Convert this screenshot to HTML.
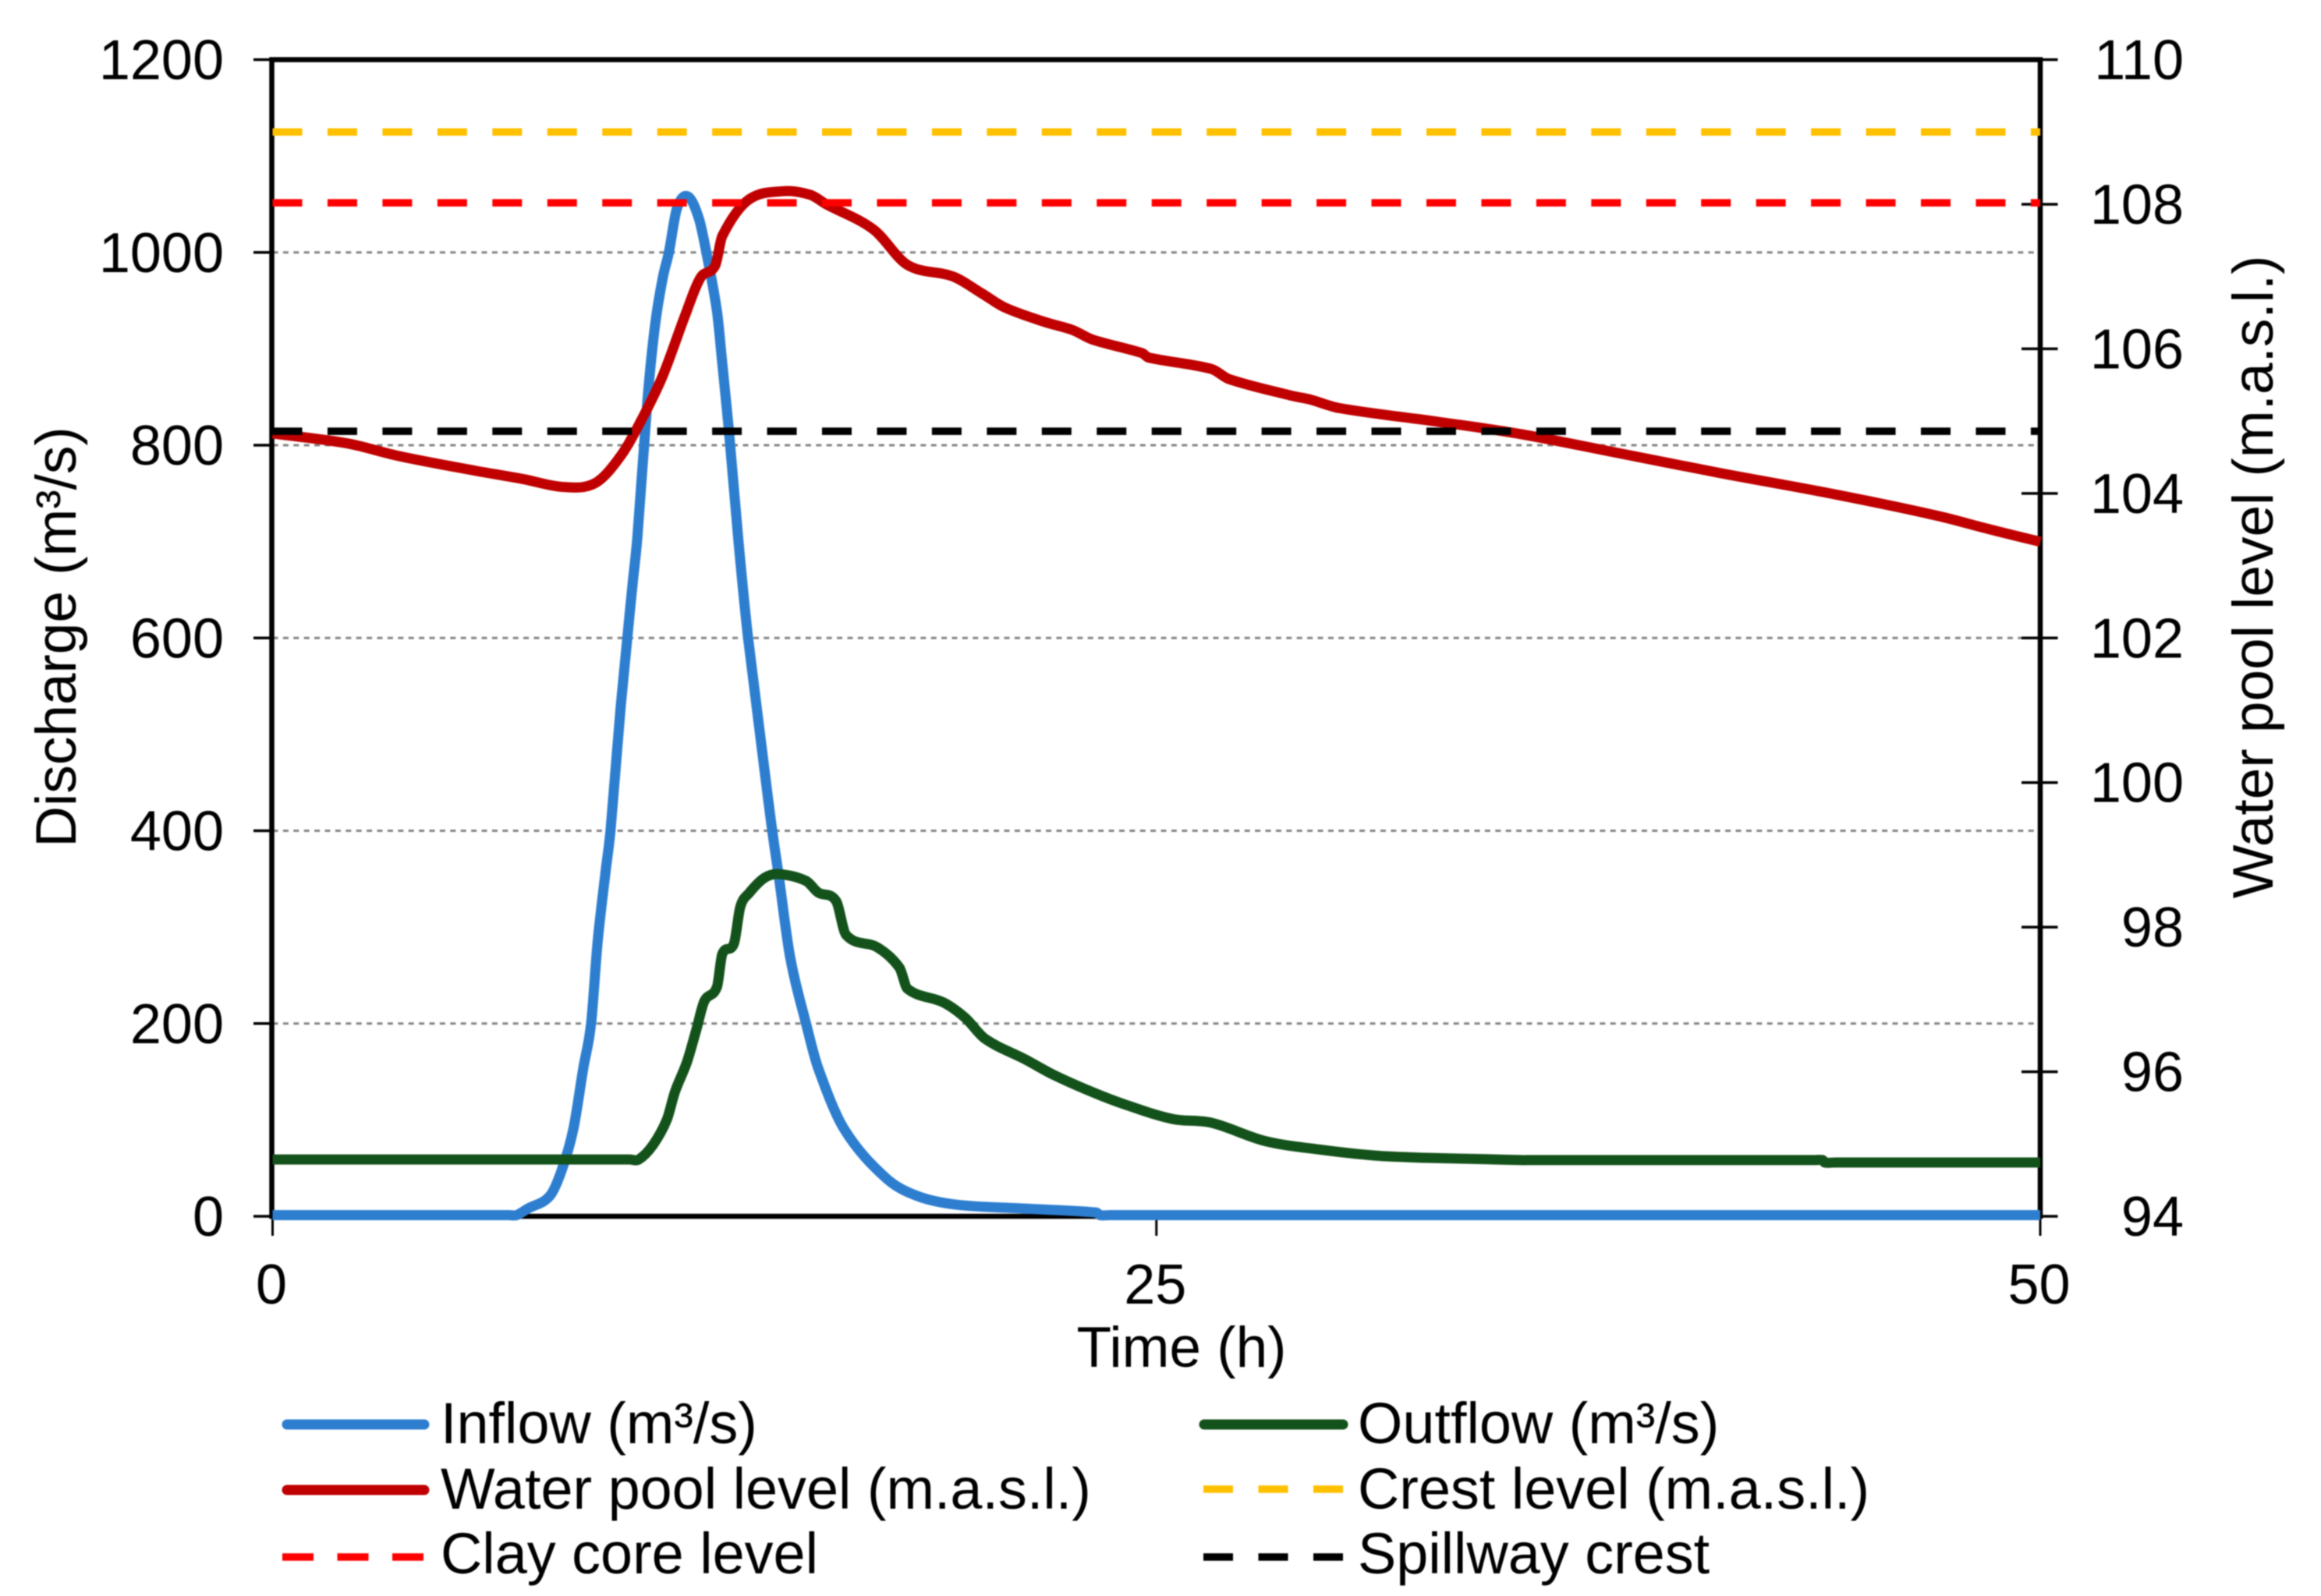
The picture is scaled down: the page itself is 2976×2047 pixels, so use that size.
<!DOCTYPE html>
<html lang="en">
<head>
<meta charset="utf-8">
<title>Inflow, outflow and water pool level over time</title>
<style>
html,body{margin:0;padding:0;background:#fff;}
#chart{display:block;width:2976px;height:2047px;filter:blur(0.7px);}
text{font-family:"Liberation Sans",Arial,sans-serif;fill:#000;}
.tick{font-size:72px;}
.title{font-size:73px;}
.leg{font-size:73.8px;}
</style>
</head>
<body>
<svg id="chart" xmlns="http://www.w3.org/2000/svg" width="2976" height="2047" viewBox="0 0 2976 2047">
  <rect x="0" y="0" width="2976" height="2047" fill="#fff"/>
  <g id="grid"></g>
  <g id="axes"></g>
  <g id="series"></g>
  <g id="labels"></g>

  <text class="title" x="1515" y="1753" text-anchor="middle">Time (h)</text>
  <text class="title" transform="translate(97 817) rotate(-90)" text-anchor="middle">Discharge (m³/s)</text>
  <text class="title" transform="translate(2914 740) rotate(-90)" text-anchor="middle">Water pool level (m.a.s.l.)</text>

  <g>
    <g>
      <line x1="368" y1="1827" x2="544" y2="1827" stroke="#2e7ed0" stroke-width="13" stroke-linecap="round"/>
      <text class="leg" x="565" y="1851">Inflow (m³/s)</text>
    </g>
    <g>
      <line x1="1544" y1="1827" x2="1722" y2="1827" stroke="#14521b" stroke-width="13" stroke-linecap="round"/>
      <text class="leg" x="1741" y="1851">Outflow (m³/s)</text>
    </g>
    <g>
      <line x1="368" y1="1911" x2="544" y2="1911" stroke="#c00000" stroke-width="13" stroke-linecap="round"/>
      <text class="leg" x="565" y="1935">Water pool level (m.a.s.l.)</text>
    </g>
    <g>
      <line x1="1543" y1="1910" x2="1722" y2="1910" stroke="#ffc000" stroke-width="9.5" stroke-dasharray="38 32.5"/>
      <text class="leg" x="1741" y="1935">Crest level (m.a.s.l.)</text>
    </g>
    <g>
      <line x1="362" y1="1997" x2="543" y2="1997" stroke="#ff0000" stroke-width="9.5" stroke-dasharray="40 30.5"/>
      <text class="leg" x="565" y="2018">Clay core level</text>
    </g>
    <g>
      <line x1="1543" y1="1997" x2="1722" y2="1997" stroke="#000" stroke-width="9.5" stroke-dasharray="38 32.5"/>
      <text class="leg" x="1741" y="2018">Spillway crest</text>
    </g>
  </g>
</svg>

<script>
// Tick labels
var discharge_ticks = [0, 200, 400, 600, 800, 1000, 1200];
var level_ticks = [94, 96, 98, 100, 102, 104, 106, 108, 110];
var time_ticks = [0, 25, 50];

// Inflow (m3/s)
var inflow_time = [0, 0.3, 6.7, 6.9, 7.22, 7.84, 8.18, 8.51, 8.79, 9.01, 9.19, 9.41, 9.56, 9.85, 10.18, 10.32, 10.6, 10.82, 11.04, 11.21, 11.44, 11.75, 12.06, 12.28, 12.57, 12.72, 12.9, 13.18, 13.45, 14.09, 14.31, 14.64, 15.09, 15.43, 16.16, 17.34, 18.24, 19.36, 21.28, 23.3, 23.4, 23.7, 49.7, 50];
var inflow_values = [1.2, 1.2, 1.2, 1.2, 8, 21, 48, 91, 154, 200, 283, 355, 401, 530, 655, 705, 845, 925, 974, 1000, 1046, 1058, 1035, 998, 939, 885, 818, 700, 600, 412, 355, 269, 200, 154, 91, 40, 21, 12, 8, 4, 1.2, 1.2, 1.2, 1.2];

// Outflow (m3/s)
var outflow_time = [0, 0.3, 10.1, 10.36, 10.76, 11.15, 11.38, 11.72, 11.99, 12.21, 12.57, 12.72, 13.05, 13.23, 13.47, 13.91, 14.31, 15.09, 15.43, 15.94, 16.22, 17.11, 17.73, 17.96, 18.97, 19.59, 20.16, 21.28, 22.08, 23.18, 24.11, 25.45, 26.56, 28.08, 29.67, 31.19, 32.62, 34.32, 35.31, 35.6, 43.6, 43.85, 43.9, 44.2, 49.7, 50];
var outflow_values = [59, 59, 59, 59, 74, 100, 129, 160, 194, 223, 238, 272, 283, 321, 335, 351, 355, 348, 336, 327, 292, 279, 258, 236, 222, 206, 184, 163, 147, 129, 116, 101, 97, 78, 69, 63, 60.7, 59.3, 58.3, 58.3, 58.3, 58.3, 55.8, 55.8, 55.8, 55.8];

// Water pool level (m.a.s.l.)
var pool_time = [0, 2.13, 3.54, 5.66, 7.07, 8.2, 9.12, 9.85, 10.47, 11.04, 11.66, 12.1, 12.52, 12.72, 13.46, 14.46, 15.21, 15.66, 17, 17.96, 19.25, 20.05, 20.72, 21.85, 22.63, 23.18, 24.6, 24.77, 26.56, 27.06, 28.83, 29.34, 30.17, 32.97, 35.31, 38.14, 40.96, 44.27, 47.1, 48.51, 50];
var pool_values = [104.83, 104.69, 104.52, 104.32, 104.2, 104.09, 104.14, 104.52, 105.05, 105.63, 106.45, 106.98, 107.15, 107.56, 108.06, 108.18, 108.13, 108, 107.65, 107.16, 107, 106.77, 106.57, 106.37, 106.26, 106.13, 105.94, 105.88, 105.72, 105.58, 105.35, 105.3, 105.18, 104.99, 104.82, 104.55, 104.28, 103.98, 103.69, 103.51, 103.33];

// Constant reference levels (m.a.s.l.)
var level_span = [0, 50];
var crest_level = [109, 109];
var clay_core_level = [108.02, 108.02];
var spillway_crest_level = [104.86, 104.86];

var SVGNS = 'http://www.w3.org/2000/svg';
var plotLeft = 349.5, plotRight = 2616, plotTop = 76.5, plotBottom = 1560;

function xScale(t) { return plotLeft + (t - 0) / 50 * (plotRight - plotLeft); }
function yDischarge(q) { return plotBottom - q / 1200 * (plotBottom - plotTop); }
function yLevel(h) { return plotBottom - (h - 94) / 16 * (plotBottom - plotTop); }

function make(tag, parent, attrs) {
  var el = document.createElementNS(SVGNS, tag);
  for (var k in attrs) { el.setAttribute(k, attrs[k]); }
  parent.appendChild(el);
  return el;
}

var gridGroup = document.getElementById('grid');
var axesGroup = document.getElementById('axes');
var seriesGroup = document.getElementById('series');
var labelGroup = document.getElementById('labels');

// Gridlines + left axis ticks + left labels
discharge_ticks.forEach(function (q) {
  var y = yDischarge(q);
  if (q > 0 && q < 1200) {
    var g = make('line', gridGroup, {x1: plotLeft, y1: y, x2: plotRight, y2: y, stroke: '#858585', 'stroke-width': 3, 'stroke-dasharray': '7 6.4'});
    
    
  }
  var t = make('line', axesGroup, {x1: 325, y1: y, x2: plotLeft, y2: y, stroke: '#000', 'stroke-width': 3.5});
  
  
  var l = make('text', labelGroup, {x: 287, y: y + 25, 'text-anchor': 'end', 'class': 'tick'});
  l.textContent = String(q);
  
  
});

// Right axis ticks + labels
level_ticks.forEach(function (h) {
  var y = yLevel(h);
  var t = make('line', axesGroup, {x1: h === 94 || h === 110 ? plotRight : 2592, y1: y, x2: 2638.5, y2: y, stroke: '#000', 'stroke-width': 3.5});
  
  
  var l = make('text', labelGroup, {x: 2800, y: y + 25, 'text-anchor': 'end', 'class': 'tick'});
  l.textContent = String(h);
  
  
});

// Bottom ticks + labels
time_ticks.forEach(function (v) {
  var x = xScale(v);
  var t = make('line', axesGroup, {x1: x, y1: plotBottom, x2: x, y2: 1585, stroke: '#000', 'stroke-width': 3});
  
  
  var l = make('text', labelGroup, {x: x - 1.5, y: 1672, 'text-anchor': 'middle', 'class': 'tick'});
  l.textContent = String(v);
  
  
});

// Plot frame
var frame = make('rect', axesGroup, {x: plotLeft - 1, y: plotTop, width: plotRight - plotLeft + 1, height: plotBottom - plotTop, fill: 'none', stroke: '#000', 'stroke-width': 6.5});



// Smooth path through the data points (non-uniform cardinal spline)
function smoothPath(times, values, yFn) {
  var xs = times.map(xScale);
  var ys = values.map(yFn);
  var n = xs.length;
  var d = 'M' + xs[0].toFixed(1) + ' ' + ys[0].toFixed(1);
  for (var i = 0; i < n - 1; i++) {
    var p0 = Math.max(i - 1, 0), p3 = Math.min(i + 2, n - 1), dx = xs[i + 1] - xs[i];
    var s1 = dx / (xs[i + 1] - xs[p0]) / 3;
    var s2 = dx / (xs[p3] - xs[i]) / 3;
    var c1x = xs[i] + (xs[i + 1] - xs[p0]) * s1;
    var c1y = ys[i] + (ys[i + 1] - ys[p0]) * s1;
    var c2x = xs[i + 1] - (xs[p3] - xs[i]) * s2;
    var c2y = ys[i + 1] - (ys[p3] - ys[i]) * s2;
    d += 'C' + c1x.toFixed(1) + ' ' + c1y.toFixed(1) + ' ' + c2x.toFixed(1) + ' ' + c2y.toFixed(1) + ' ' + xs[i + 1].toFixed(1) + ' ' + ys[i + 1].toFixed(1);
  }
  return d;
}

function pointsOf(times, values, yFn) {
  return times.map(function (t, i) { return xScale(t).toFixed(1) + ',' + yFn(values[i]).toFixed(1); }).join(' ');
}

var inflowLine = make('path', seriesGroup, {d: smoothPath(inflow_time, inflow_values, yDischarge), fill: 'none', stroke: '#2e7ed0', 'stroke-width': 13, 'stroke-linejoin': 'round'});



var outflowLine = make('path', seriesGroup, {d: smoothPath(outflow_time, outflow_values, yDischarge), fill: 'none', stroke: '#14521b', 'stroke-width': 13, 'stroke-linejoin': 'round'});



var poolLine = make('path', seriesGroup, {d: smoothPath(pool_time, pool_values, yLevel), fill: 'none', stroke: '#c00000', 'stroke-width': 13, 'stroke-linejoin': 'round'});



var crestLine = make('polyline', seriesGroup, {points: pointsOf(level_span, crest_level, yLevel), fill: 'none', stroke: '#ffc000', 'stroke-width': 9.5, 'stroke-dasharray': '38 32.45'});



var clayLine = make('polyline', seriesGroup, {points: pointsOf(level_span, clay_core_level, yLevel), fill: 'none', stroke: '#ff0000', 'stroke-width': 9.5, 'stroke-dasharray': '38 32.45'});



var spillwayLine = make('polyline', seriesGroup, {points: pointsOf(level_span, spillway_crest_level, yLevel), fill: 'none', stroke: '#000', 'stroke-width': 9.5, 'stroke-dasharray': '38 32.45'});


</script>
</body>
</html>
